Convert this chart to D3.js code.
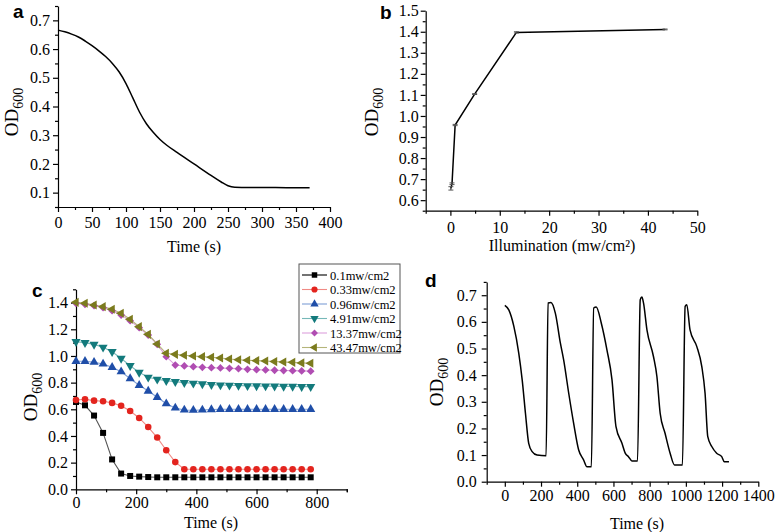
<!DOCTYPE html>
<html><head><meta charset="utf-8">
<script src="https://cdn.jsdelivr.net/npm/d3@7"></script>
<style>
body{margin:0;background:#fff;}
svg{display:block;}
text{font-family:"Liberation Serif","Times New Roman",serif;fill:#000;}
.lbl{font-family:"Liberation Sans",Arial,sans-serif;font-weight:bold;}
</style></head>
<body>
<svg id="c" width="775" height="532"></svg>
<script>
// ---------- DATA ----------
// Panel a
const aTime = [0,10,20,30,40,50,60,70,80,90,100,110,120,130,140,150,160,175,200,225,240,250,260,280,300,340,370];
const aOD   = [0.666,0.66,0.652,0.642,0.628,0.612,0.594,0.574,0.55,0.52,0.48,0.43,0.38,0.34,0.31,0.285,0.265,0.24,0.2,0.16,0.137,0.124,0.119,0.118,0.118,0.117,0.117];
// Panel b
const bIllum = [0.1,0.33,0.96,4.91,13.37,43.47];
const bOD    = [0.656,0.678,0.957,1.104,1.397,1.411];
const bErr   = [0.008,0.004,0.003,0.002,0.003,0.002];
// Panel c
const cSeriesNames = ["0.1mw/cm2","0.33mw/cm2","0.96mw/cm2","4.91mw/cm2","13.37mw/cm2","43.47mw/cm2"];
const cTime = [0,30,60,90,120,150,180,210,240,270,300,330,360,390,420,450,480,510,540,570,600,630,660,690,720,750,780];
const c01   = [0.655,0.63,0.553,0.423,0.224,0.118,0.1,0.095,0.092,0.09,0.09,0.09,0.09,0.09,0.09,0.09,0.09,0.09,0.09,0.09,0.09,0.09,0.09,0.09,0.09,0.09,0.09];
const c033  = [0.67,0.675,0.665,0.66,0.648,0.627,0.587,0.535,0.467,0.388,0.293,0.204,0.15,0.15,0.15,0.15,0.15,0.15,0.15,0.15,0.15,0.15,0.15,0.15,0.15,0.15,0.15];
const c096  = [0.96,0.96,0.953,0.94,0.915,0.882,0.83,0.78,0.737,0.69,0.642,0.61,0.595,0.593,0.595,0.598,0.6,0.6,0.6,0.6,0.6,0.6,0.6,0.6,0.6,0.6,0.6];
const c491  = [1.107,1.1,1.087,1.065,1.032,0.982,0.927,0.877,0.84,0.825,0.815,0.807,0.8,0.795,0.79,0.785,0.782,0.78,0.778,0.776,0.775,0.774,0.773,0.772,0.771,0.77,0.77];
const c1337 = [1.395,1.387,1.377,1.362,1.34,1.307,1.265,1.212,1.157,1.087,0.995,0.932,0.925,0.92,0.915,0.912,0.91,0.907,0.905,0.9,0.897,0.895,0.893,0.891,0.89,0.888,0.886];
const c4347 = [1.402,1.395,1.382,1.37,1.35,1.32,1.275,1.22,1.162,1.09,1.02,1.012,1.005,1.0,0.995,0.99,0.985,0.977,0.972,0.968,0.965,0.962,0.958,0.955,0.952,0.948,0.945];
// Panel d
const dTime = [0,22,50,77,96,114,132,151,178,228,239,255,279,307,325,353,380,408,435,454,478,491,505,533,564,592,614,647,665,683,702,733,748,757,766,785,821,840,858,885,913,937,981,996,1005,1023,1060,1088,1106,1121,1143,1170,1198,1212,1238];
const dOD   = [0.662,0.645,0.583,0.483,0.382,0.257,0.144,0.113,0.1,0.097,0.671,0.673,0.633,0.52,0.457,0.332,0.22,0.119,0.082,0.056,0.056,0.652,0.656,0.595,0.495,0.382,0.207,0.144,0.107,0.094,0.078,0.078,0.683,0.693,0.671,0.57,0.47,0.395,0.257,0.182,0.107,0.063,0.063,0.658,0.664,0.57,0.508,0.432,0.332,0.169,0.132,0.107,0.094,0.075,0.075];

// ---------- STYLES ----------
const cColors = ["#000000","#e3241e","#1f4ea8","#137a7c","#b04db2","#7b7b1e"];
const cLineColors = ["#555555","#f08a85","#7f9fd6","#76b8b8","#dca0dc","#b5b57a"];
const cSymbols = [d3.symbolSquare,d3.symbolCircle,d3.symbolTriangle,"tdown","diamond","tleft"];

const svg = d3.select("#c");

function axes(g, x, y, o){
  const fx = o.xfmt || (d=>d), fy = o.yfmt || (d=>d);
  g.append("g").attr("transform",`translate(0,${y.range()[0]})`)
    .call(d3.axisBottom(x).tickValues(o.xMajor).tickSize(5).tickSizeOuter(0).tickPadding(o.xPad||4).tickFormat(fx));
  g.append("g").attr("transform",`translate(0,${y.range()[0]})`)
    .call(d3.axisBottom(x).tickValues(o.xMinor).tickSize(3).tickSizeOuter(0).tickFormat(""))
    .select(".domain").remove();
  g.append("g").attr("transform",`translate(${x.range()[0]},0)`)
    .call(d3.axisLeft(y).tickValues(o.yMajor).tickSize(5).tickSizeOuter(0).tickPadding(o.yPad||3).tickFormat(fy));
  g.append("g").attr("transform",`translate(${x.range()[0]},0)`)
    .call(d3.axisLeft(y).tickValues(o.yMinor).tickSize(3).tickSizeOuter(0).tickFormat(""))
    .select(".domain").remove();
  g.selectAll(".tick text").style("font-family",'"Liberation Serif","Times New Roman",serif').style("font-size",(o.fs||16)+"px").attr("fill","#000");
  g.selectAll(".domain,.tick line").attr("stroke","#000").attr("stroke-width",1.2);
}
function ylabel(g, x, y){
  const t = g.append("text").attr("transform",`translate(${x},${y}) rotate(-90)`).attr("text-anchor","middle").style("font-size","19px");
  t.append("tspan").text("OD");
  t.append("tspan").attr("dy",5).style("font-size","14px").text("600");
}
function rangeStep(a,b,s){ return d3.range(Math.round((b-a)/s)+1).map(i=>+(a+i*s).toFixed(4)); }

// ---------- PANEL A ----------
{
  const g = svg.append("g");
  const x = d3.scaleLinear().domain([0,400]).range([58,330]);
  const y = d3.scaleLinear().domain([0.05,0.75]).range([207,6]);
  axes(g,x,y,{xMajor:rangeStep(0,400,50),xMinor:rangeStep(25,375,50),yMajor:rangeStep(0.1,0.7,0.1),yMinor:rangeStep(0.05,0.75,0.1),yfmt:d3.format(".1f"),xPad:5,yPad:3});
  g.append("path").datum(aTime.map((t,i)=>[t,aOD[i]]))
    .attr("fill","none").attr("stroke","#000").attr("stroke-width",1.5)
    .attr("d",d3.line().x(d=>x(d[0])).y(d=>y(d[1])).curve(d3.curveMonotoneX));
  g.append("text").attr("class","lbl").attr("x",13).attr("y",18).style("font-size","19px").text("a");
  g.append("text").attr("x",194).attr("y",252).attr("text-anchor","middle").style("font-size","16px").text("Time (s)");
  ylabel(g,18,112);
}

// ---------- PANEL B ----------
{
  const g = svg.append("g");
  const x = d3.scaleLinear().domain([-5,50]).range([425.7,697.3]);
  const y = d3.scaleLinear().domain([0.55,1.5]).range([210.7,10.7]);
  axes(g,x,y,{xMajor:rangeStep(0,50,10),xMinor:rangeStep(-5,45,10),yMajor:rangeStep(0.6,1.5,0.1),yMinor:rangeStep(0.55,1.45,0.1),yfmt:d3.format(".1f"),xPad:6,yPad:2});
  g.append("path").datum(bIllum.map((t,i)=>[t,bOD[i]]))
    .attr("fill","none").attr("stroke","#000").attr("stroke-width",1.5)
    .attr("d",d3.line().x(d=>x(d[0])).y(d=>y(d[1])));
  const eb = g.selectAll(".eb").data(bIllum.map((t,i)=>({t,v:bOD[i],e:bErr[i]}))).enter().append("g");
  eb.append("line").attr("x1",d=>x(d.t)).attr("x2",d=>x(d.t)).attr("y1",d=>y(d.v-d.e)).attr("y2",d=>y(d.v+d.e)).attr("stroke","#333");
  eb.append("line").attr("x1",d=>x(d.t)-2.5).attr("x2",d=>x(d.t)+2.5).attr("y1",d=>y(d.v-d.e)).attr("y2",d=>y(d.v-d.e)).attr("stroke","#555");
  eb.append("line").attr("x1",d=>x(d.t)-2.5).attr("x2",d=>x(d.t)+2.5).attr("y1",d=>y(d.v+d.e)).attr("y2",d=>y(d.v+d.e)).attr("stroke","#555");
  g.append("text").attr("class","lbl").attr("x",380).attr("y",19).style("font-size","19px").text("b");
  g.append("text").attr("x",562).attr("y",251).attr("text-anchor","middle").style("font-size","16px").text("Illumination (mw/cm²)");
  ylabel(g,378,112);
}

// ---------- PANEL C ----------
function symPath(kind, size){
  if (kind==="tdown") return d3.symbol(d3.symbolTriangle,size)();
  if (kind==="diamond") return d3.symbol(d3.symbolSquare,size*0.8)();
  if (kind==="tleft") return d3.symbol(d3.symbolTriangle,size)();
  return d3.symbol(kind,size)();
}
function symRot(kind){ return kind==="tdown"?180:kind==="diamond"?45:kind==="tleft"?-90:0; }
{
  const g = svg.append("g");
  const x = d3.scaleLinear().domain([0,900]).range([76,346.8]);
  const y = d3.scaleLinear().domain([0,1.5]).range([489.3,289.3]);
  axes(g,x,y,{xMajor:rangeStep(0,800,200),xMinor:rangeStep(100,900,200).concat([900]),yMajor:rangeStep(0,1.4,0.2),yMinor:rangeStep(0.1,1.5,0.2),yfmt:d3.format(".1f"),xPad:2,yPad:3});
  const series = [c01,c033,c096,c491,c1337,c4347];
  series.forEach((vals,k)=>{
    const pts = cTime.map((t,i)=>[t,vals[i]]);
    g.append("path").datum(pts).attr("fill","none").attr("stroke",cLineColors[k]).attr("stroke-width",1.1)
      .attr("d",d3.line().x(d=>x(d[0])).y(d=>y(d[1])));
  });
  series.forEach((vals,k)=>{
    const pts = cTime.map((t,i)=>[t,vals[i]]);
    const sz = k===1?34:(k===4?38:36);
    g.selectAll(null).data(pts).enter().append("path")
      .attr("transform",d=>`translate(${x(d[0])},${y(d[1])}) rotate(${symRot(cSymbols[k])})`)
      .attr("d",symPath(cSymbols[k],sz)).attr("fill",cColors[k]);
  });
  // legend
  const lg = g.append("g");
  lg.append("rect").attr("x",299).attr("y",264).attr("width",101).attr("height",89).attr("fill","#fff").attr("stroke","#555").attr("stroke-width",1);
  cSeriesNames.forEach((n,k)=>{
    const yy = 275+k*14.5;
    lg.append("line").attr("x1",302).attr("x2",327).attr("y1",yy).attr("y2",yy).attr("stroke",k===0?"#000":cLineColors[k]).attr("stroke-width",1.1);
    lg.append("path").attr("transform",`translate(314.5,${yy}) rotate(${symRot(cSymbols[k])})`).attr("d",symPath(cSymbols[k],30)).attr("fill",cColors[k]);
    lg.append("text").attr("x",330).attr("y",yy+4.5).style("font-size","12.5px").text(n);
  });
  g.append("text").attr("class","lbl").attr("x",32).attr("y",297).style("font-size","19px").text("c");
  g.append("text").attr("x",211).attr("y",528).attr("text-anchor","middle").style("font-size","16px").text("Time (s)");
  ylabel(g,37,397);
}

// ---------- PANEL D ----------
{
  const g = svg.append("g");
  const x = d3.scaleLinear().domain([-100,1400]).range([486.7,758.3]);
  const y = d3.scaleLinear().domain([0,0.75]).range([481.7,281.9]);
  axes(g,x,y,{xMajor:rangeStep(0,1400,200),xMinor:rangeStep(-100,1300,200),yMajor:rangeStep(0,0.7,0.1),yMinor:rangeStep(0.05,0.75,0.1),yfmt:d3.format(".1f"),xPad:3,yPad:5});
  g.append("path").datum(dTime.map((t,i)=>[t,dOD[i]]))
    .attr("fill","none").attr("stroke","#000").attr("stroke-width",1.5)
    .attr("d",d3.line().x(d=>x(d[0])).y(d=>y(d[1])).curve(d3.curveMonotoneX));
  g.append("text").attr("class","lbl").attr("x",425).attr("y",287).style("font-size","19px").text("d");
  g.append("text").attr("x",637).attr("y",529).attr("text-anchor","middle").style("font-size","16px").text("Time (s)");
  ylabel(g,443,382);
}
</script>
</body></html>
